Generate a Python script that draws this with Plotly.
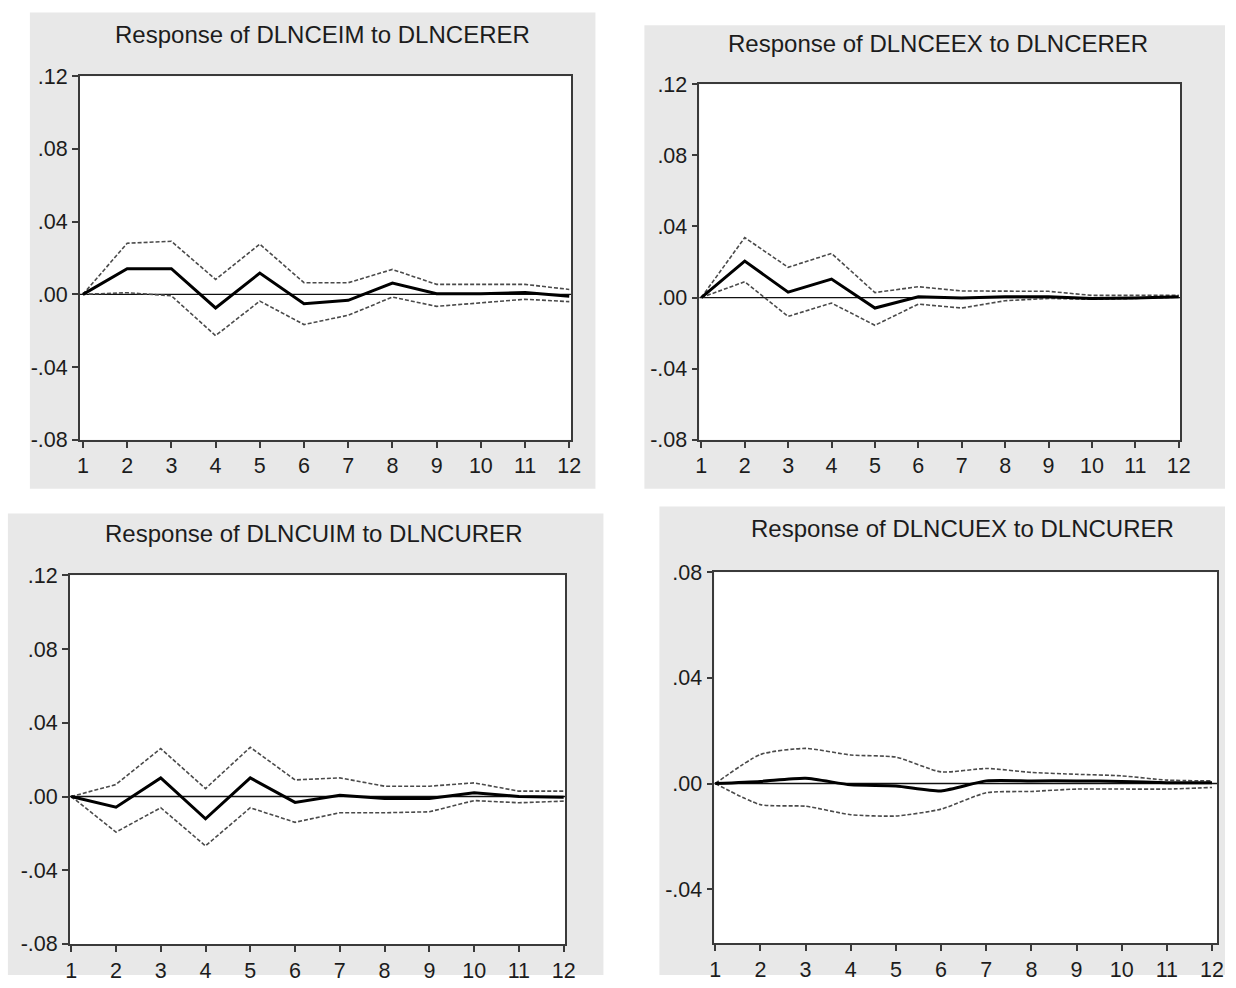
import plotly.graph_objects as go

W, H = 1236, 988

periods = list(range(1, 13))

titles = [
    "Response of DLNCEIM to DLNCERER",
    "Response of DLNCEEX to DLNCERER",
    "Response of DLNCUIM to DLNCURER",
    "Response of DLNCUEX to DLNCURER",
]

# Panel 1
p1_resp = [0.0, 0.0141, 0.0141, -0.0075, 0.0117, -0.0051, -0.0033, 0.0062, 0.0003, 0.0004, 0.0010, -0.0011]
p1_upper = [0.0, 0.0281, 0.0292, 0.0082, 0.0276, 0.0064, 0.0064, 0.0137, 0.0055, 0.0055, 0.0055, 0.0027]
p1_lower = [0.0, 0.0009, -0.0008, -0.0227, -0.0037, -0.0166, -0.0115, -0.0015, -0.0066, -0.0048, -0.0027, -0.0040]

# Panel 2
p2_resp = [0.0, 0.0205, 0.0030, 0.0104, -0.0059, 0.0004, -0.0003, 0.0005, 0.0005, -0.0005, -0.0003, 0.0004]
p2_upper = [0.0, 0.0337, 0.0170, 0.0248, 0.0028, 0.0061, 0.0037, 0.0035, 0.0035, 0.0012, 0.0012, 0.0012]
p2_lower = [0.0, 0.0089, -0.0106, -0.0031, -0.0156, -0.0037, -0.0059, -0.0018, -0.0005, -0.0010, -0.0005, 0.0002]

# Panel 3
p3_resp = [0.0, -0.0058, 0.0101, -0.0121, 0.0101, -0.0032, 0.0007, -0.0011, -0.0011, 0.0020, 0.0000, -0.0004]
p3_upper = [0.0, 0.0065, 0.0260, 0.0043, 0.0267, 0.0090, 0.0101, 0.0056, 0.0056, 0.0074, 0.0029, 0.0029]
p3_lower = [0.0, -0.0193, -0.0061, -0.0268, -0.0061, -0.0140, -0.0088, -0.0088, -0.0083, -0.0022, -0.0034, -0.0025]

# Panel 4
p4_resp = [0.0, 0.0008, 0.0020, -0.0005, -0.0009, -0.0028, 0.0010, 0.0010, 0.0010, 0.0008, 0.0003, 0.0003]
p4_upper = [0.0, 0.0110, 0.0133, 0.0108, 0.0100, 0.0044, 0.0057, 0.0042, 0.0035, 0.0029, 0.0013, 0.0010]
p4_lower = [0.0, -0.0080, -0.0086, -0.0118, -0.0123, -0.0097, -0.0035, -0.0030, -0.0021, -0.0021, -0.0021, -0.0015]

ytick_vals_a = [-0.08, -0.04, 0.0, 0.04, 0.08, 0.12]
ytick_text_a = ["-.08", "-.04", ".00", ".04", ".08", ".12"]
ytick_vals_b = [-0.04, 0.0, 0.04, 0.08]
ytick_text_b = ["-.04", ".00", ".04", ".08"]
xtick_text = [str(p) for p in periods]

# layout geometry (target pixel positions in the final picture)
panels = [
    dict(bg=(30, 12, 596, 490), plot=(80, 76, 572, 441), xr=[0.93, 12.05], yr=[-0.08, 0.12],
         title=(323, 34), data=(p1_resp, p1_upper, p1_lower), yt=(ytick_vals_a, ytick_text_a), shape="linear"),
    dict(bg=(645, 25, 1231, 490), plot=(700, 84, 1181, 441), xr=[0.955, 12.03], yr=[-0.08, 0.12],
         title=(939, 43), data=(p2_resp, p2_upper, p2_lower), yt=(ytick_vals_a, ytick_text_a), shape="linear"),
    dict(bg=(8, 515, 604, 988), plot=(70, 577, 566, 947), xr=[0.97, 12.04], yr=[-0.08, 0.12],
         title=(314, 535), data=(p3_resp, p3_upper, p3_lower), yt=(ytick_vals_a, ytick_text_a), shape="linear"),
    dict(bg=(660, 508, 1236, 988), plot=(715, 574, 1218, 946), xr=[0.98, 12.11], yr=[-0.0604, 0.08],
         title=(963, 530), data=(p4_resp, p4_upper, p4_lower), yt=(ytick_vals_b, ytick_text_b), shape="spline"),
]

# compensation for the page offset / scale observed in the capture
OX, SX = 5.1, 0.9878
OY, SY = 10.6, 0.9793

def clamp(v):
    return max(0.0, min(1.0, v))

def px(x):
    return clamp(((x - OX) / SX) / W)

def py(y):
    return clamp(1 - ((y - OY) / SY) / H)

fig = go.Figure()
shapes = []
annotations = []
FONT = "Liberation Sans, Arial, sans-serif"
TXT = "#1c1c1c"

for i, p in enumerate(panels, start=1):
    xa = "x" if i == 1 else f"x{i}"
    ya = "y" if i == 1 else f"y{i}"
    resp, up, lo = p["data"]
    for series, w, c, dash in [(up, 1.6, "#4a4a4a", "4px,2px"), (lo, 1.6, "#4a4a4a", "4px,2px"), (resp, 3, "#000000", "solid")]:
        fig.add_trace(go.Scatter(
            x=periods, y=series, mode="lines", xaxis=xa, yaxis=ya,
            line=dict(color=c, width=w, dash=dash, shape=p["shape"], smoothing=0.6),
            showlegend=False, hoverinfo="skip"))
    x0, y0, x1, y1 = p["bg"]
    shapes.append(dict(type="rect", xref="paper", yref="paper", x0=px(x0), x1=px(x1), y0=py(y1), y1=py(y0),
                       fillcolor="#e8e8e8", line=dict(width=0), layer="below"))
    shapes.append(dict(type="rect", xref=f"{xa} domain", yref=f"{ya} domain", x0=0, x1=1, y0=0, y1=1,
                       fillcolor="white", line=dict(width=0), layer="below"))
    # zero line
    shapes.append(dict(type="line", xref=f"{xa} domain", yref=ya, x0=0, x1=1, y0=0, y1=0,
                       line=dict(color="#111111", width=1.3), layer="below"))
    lx0, ly0, lx1, ly1 = p["plot"]
    axis_common = dict(showgrid=False, zeroline=False, showline=True, linecolor="#3a3a3a", linewidth=1.6,
                       mirror=True, ticks="outside", ticklen=6, tickwidth=1.5, tickcolor="#3a3a3a",
                       tickfont=dict(family=FONT, size=21.5, color=TXT), fixedrange=True)
    fig.layout[f"xaxis{'' if i == 1 else i}"] = dict(
        axis_common, domain=[px(lx0), px(lx1)], range=p["xr"], anchor=ya,
        tickmode="array", tickvals=periods, ticktext=xtick_text)
    fig.layout[f"yaxis{'' if i == 1 else i}"] = dict(
        axis_common, domain=[py(ly1), py(ly0)], range=p["yr"], anchor=xa,
        tickmode="array", tickvals=p["yt"][0], ticktext=p["yt"][1])
    tx, ty = p["title"]
    annotations.append(dict(text=titles[i - 1], xref="paper", yref="paper", x=px(tx), y=py(ty),
                            xanchor="center", yanchor="middle", showarrow=False,
                            font=dict(family=FONT, size=24, color=TXT)))

fig.update_layout(
    width=W, height=H, margin=dict(l=0, r=0, t=0, b=0),
    paper_bgcolor="white", plot_bgcolor="white",
    shapes=shapes, annotations=annotations, showlegend=False,
)

fig.write_html("out.html")
